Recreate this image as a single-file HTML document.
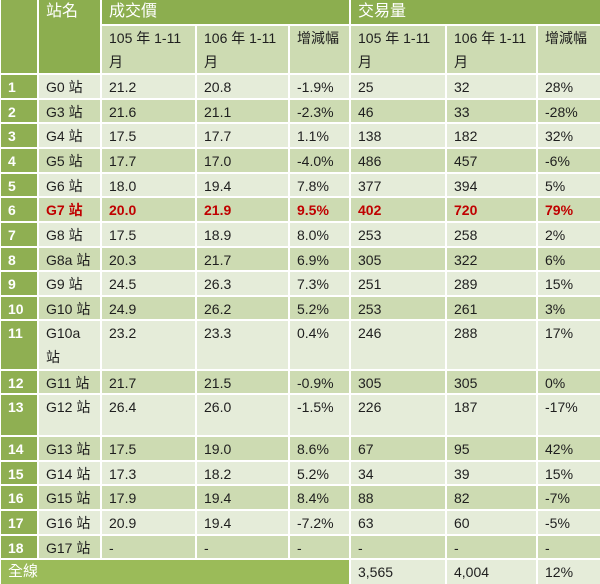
<!DOCTYPE html>
<html><head><meta charset="utf-8"><style>
html,body{margin:0;padding:0;background:#fff;width:600px;height:584px;overflow:hidden;}
body{position:relative;font-family:"Liberation Sans","Noto Sans CJK TC",sans-serif;font-size:14px;color:#1e1e1e;}
.r{position:absolute;left:0;width:600px;}
.r div{position:absolute;top:1px;bottom:1px;padding-left:7px;line-height:24px;white-space:nowrap;overflow:hidden;box-sizing:border-box;}
.c0{left:1px;width:36px;}
.c1{left:39px;width:61px;}
.c2{left:102px;width:93px;}
.c3{left:197px;width:91px;}
.c4{left:290px;width:59px;}
.c5{left:351px;width:94px;}
.c6{left:447px;width:89px;}
.c7{left:538px;width:62px;}
.l div{background:#e5ecd9;}
.d div{background:#cddbb2;}
.r div.c0{background:#8faf52;color:#fff;font-weight:bold;}
.h div{background:#8cae4f;color:#fff;font-size:16px;}
.h2 div{background:#cddbb2;white-space:normal;}
.red div{color:#c00000;font-weight:bold;}
</style></head><body>
<div class="r h" style="top:0;height:74px"><div class="c0" style="top:0"></div><div class="c1" style="top:0">站名</div></div>
<div class="r h" style="top:0;height:25px"><div style="left:102px;width:247px;top:0">成交價</div><div style="left:351px;width:249px;top:0">交易量</div></div>
<div class="r h2" style="top:25px;height:49px"><div class="c2">105 年 1-11 月</div><div class="c3">106 年 1-11 月</div><div class="c4">增減幅</div><div class="c5">105 年 1-11 月</div><div class="c6">106 年 1-11 月</div><div class="c7">增減幅</div></div>
<div class="r l" style="top:74px;height:25px"><div class="c0">1</div><div class="c1">G0 站</div><div class="c2">21.2</div><div class="c3">20.8</div><div class="c4">-1.9%</div><div class="c5">25</div><div class="c6">32</div><div class="c7">28%</div></div>
<div class="r d" style="top:99px;height:24px"><div class="c0">2</div><div class="c1">G3 站</div><div class="c2">21.6</div><div class="c3">21.1</div><div class="c4">-2.3%</div><div class="c5">46</div><div class="c6">33</div><div class="c7">-28%</div></div>
<div class="r l" style="top:123px;height:25px"><div class="c0">3</div><div class="c1">G4 站</div><div class="c2">17.5</div><div class="c3">17.7</div><div class="c4">1.1%</div><div class="c5">138</div><div class="c6">182</div><div class="c7">32%</div></div>
<div class="r d" style="top:148px;height:25px"><div class="c0">4</div><div class="c1">G5 站</div><div class="c2">17.7</div><div class="c3">17.0</div><div class="c4">-4.0%</div><div class="c5">486</div><div class="c6">457</div><div class="c7">-6%</div></div>
<div class="r l" style="top:173px;height:24px"><div class="c0">5</div><div class="c1">G6 站</div><div class="c2">18.0</div><div class="c3">19.4</div><div class="c4">7.8%</div><div class="c5">377</div><div class="c6">394</div><div class="c7">5%</div></div>
<div class="r d red" style="top:197px;height:25px"><div class="c0">6</div><div class="c1">G7 站</div><div class="c2">20.0</div><div class="c3">21.9</div><div class="c4">9.5%</div><div class="c5">402</div><div class="c6">720</div><div class="c7">79%</div></div>
<div class="r l" style="top:222px;height:25px"><div class="c0">7</div><div class="c1">G8 站</div><div class="c2">17.5</div><div class="c3">18.9</div><div class="c4">8.0%</div><div class="c5">253</div><div class="c6">258</div><div class="c7">2%</div></div>
<div class="r d" style="top:247px;height:24px"><div class="c0">8</div><div class="c1">G8a 站</div><div class="c2">20.3</div><div class="c3">21.7</div><div class="c4">6.9%</div><div class="c5">305</div><div class="c6">322</div><div class="c7">6%</div></div>
<div class="r l" style="top:271px;height:25px"><div class="c0">9</div><div class="c1">G9 站</div><div class="c2">24.5</div><div class="c3">26.3</div><div class="c4">7.3%</div><div class="c5">251</div><div class="c6">289</div><div class="c7">15%</div></div>
<div class="r d" style="top:296px;height:24px"><div class="c0">10</div><div class="c1">G10 站</div><div class="c2">24.9</div><div class="c3">26.2</div><div class="c4">5.2%</div><div class="c5">253</div><div class="c6">261</div><div class="c7">3%</div></div>
<div class="r l" style="top:320px;height:50px"><div class="c0">11</div><div class="c1">G10a<br>站</div><div class="c2">23.2</div><div class="c3">23.3</div><div class="c4">0.4%</div><div class="c5">246</div><div class="c6">288</div><div class="c7">17%</div></div>
<div class="r d" style="top:370px;height:24px"><div class="c0">12</div><div class="c1">G11 站</div><div class="c2">21.7</div><div class="c3">21.5</div><div class="c4">-0.9%</div><div class="c5">305</div><div class="c6">305</div><div class="c7">0%</div></div>
<div class="r l" style="top:394px;height:42px"><div class="c0">13</div><div class="c1">G12 站</div><div class="c2">26.4</div><div class="c3">26.0</div><div class="c4">-1.5%</div><div class="c5">226</div><div class="c6">187</div><div class="c7">-17%</div></div>
<div class="r d" style="top:436px;height:25px"><div class="c0">14</div><div class="c1">G13 站</div><div class="c2">17.5</div><div class="c3">19.0</div><div class="c4">8.6%</div><div class="c5">67</div><div class="c6">95</div><div class="c7">42%</div></div>
<div class="r l" style="top:461px;height:24px"><div class="c0">15</div><div class="c1">G14 站</div><div class="c2">17.3</div><div class="c3">18.2</div><div class="c4">5.2%</div><div class="c5">34</div><div class="c6">39</div><div class="c7">15%</div></div>
<div class="r d" style="top:485px;height:25px"><div class="c0">16</div><div class="c1">G15 站</div><div class="c2">17.9</div><div class="c3">19.4</div><div class="c4">8.4%</div><div class="c5">88</div><div class="c6">82</div><div class="c7">-7%</div></div>
<div class="r l" style="top:510px;height:25px"><div class="c0">17</div><div class="c1">G16 站</div><div class="c2">20.9</div><div class="c3">19.4</div><div class="c4">-7.2%</div><div class="c5">63</div><div class="c6">60</div><div class="c7">-5%</div></div>
<div class="r d" style="top:535px;height:24px"><div class="c0">18</div><div class="c1">G17 站</div><div class="c2">-</div><div class="c3">-</div><div class="c4">-</div><div class="c5">-</div><div class="c6">-</div><div class="c7">-</div></div>
<div class="r l" style="top:559px;height:26px"><div style="left:1px;width:348px;background:#9bbb59;color:#fff;font-size:15px">全線</div><div class="c5">3,565</div><div class="c6">4,004</div><div class="c7">12%</div></div>
</body></html>
